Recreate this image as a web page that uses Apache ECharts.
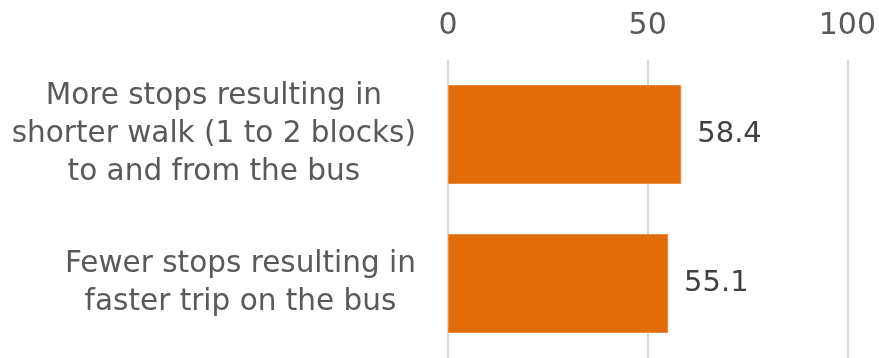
<!DOCTYPE html>
<html>
<head>
<meta charset="utf-8">
<script src="https://cdn.jsdelivr.net/npm/echarts@6/dist/echarts.min.js"></script>
<style>
  html, body { margin: 0; padding: 0; background: #ffffff; }
  #chart { width: 879px; height: 358px; }
</style>
</head>
<body>
<div id="chart"></div>
<script>
// Survey preference: share of respondents for each stop-spacing option
const categories = [
  'More stops resulting in\nshorter walk (1 to 2 blocks)\nto and from the bus',
  'Fewer stops resulting in\nfaster trip on the bus'
];
const values = [58.4, 55.1];
const axisTicks = [0, 50, 100];

const FONT = '"DejaVu Sans", sans-serif';

const chart = echarts.init(document.getElementById('chart'), null, { renderer: 'canvas' });

chart.setOption({
  animation: false,
  backgroundColor: '#ffffff',
  grid: { left: 448, right: 30, top: 60, bottom: 0, containLabel: false },
  xAxis: {
    type: 'value',
    position: 'top',
    min: axisTicks[0],
    max: axisTicks[axisTicks.length - 1],
    interval: axisTicks[1] - axisTicks[0],
    axisLine: { show: false },
    axisTick: { show: false },
    axisLabel: {
      margin: 19,
      color: '#595959',
      fontFamily: FONT,
      fontSize: 30
    },
    splitLine: { show: true, lineStyle: { color: '#d9d9d9', width: 2 } }
  },
  yAxis: {
    type: 'category',
    inverse: true,
    data: categories,
    axisLine: { show: false },
    axisTick: { show: false },
    splitLine: { show: false },
    axisLabel: {
      margin: 32,
      align: 'right',
      formatter: function (v) {
        // each line centred inside the label block
        return v.split('\n').map(function (s) { return '{c|' + s + '}'; }).join('\n');
      },
      rich: {
        c: {
          align: 'center',
          color: '#595959',
          fontFamily: FONT,
          fontSize: 29.5,
          lineHeight: 38
        }
      }
    }
  },
  series: [{
    type: 'bar',
    data: values,
    barWidth: 99,
    itemStyle: { color: '#E36C0A', borderColor: '#EA8A3F', borderWidth: 1 },
    label: {
      show: true,
      position: 'right',
      distance: 16,
      color: '#404040',
      fontFamily: FONT,
      fontSize: 29,
      formatter: function (p) { return p.value.toFixed(1); }
    }
  }]
});
</script>
</body>
</html>
